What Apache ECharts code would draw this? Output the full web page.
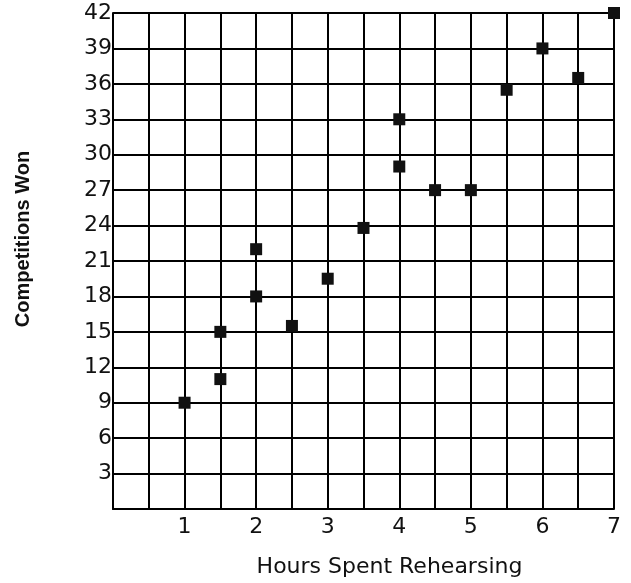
<!DOCTYPE html>
<html>
<head>
<meta charset="utf-8">
<script src="https://cdn.jsdelivr.net/npm/echarts@6/dist/echarts.min.js"></script>
<style>
  html, body { margin: 0; padding: 0; background: #fff; }
  #chart { width: 631px; height: 583px; }
</style>
</head>
<body>
<div id="chart"></div>
<script>
// hours rehearsing vs competitions won
var hours = [1, 1.5, 1.5, 2, 2, 2.5, 3, 3.5, 4, 4, 4.5, 5, 5.5, 6, 6.5, 7]
var wins = [9, 11, 15, 18, 22, 15.5, 19.5, 23.8, 33, 29, 27, 27, 35.5, 39, 36.5, 42]

var myChart = echarts.init(document.getElementById('chart'))

var option = {
  backgroundColor: '#fff',
  animation: false,
  grid: {
    left: 113,
    right: 17,
    top: 13,
    bottom: 73
  },
  xAxis: {
    type: 'value',
    min: 0,
    max: 7,
    interval: 0.5,
    name: 'Hours Spent Rehearsing',
    nameLocation: 'middle',
    nameGap: 47,
    nameTextStyle: {
      fontFamily: 'DejaVu Sans',
      fontSize: 22,
      color: '#111',
      padding: [0, 0, 0, 52]
    },
    axisLine: { lineStyle: { color: '#000', width: 2 } },
    axisTick: { show: false },
    splitLine: { lineStyle: { color: '#000', width: 2 } },
    axisLabel: {
      margin: 7,
      fontFamily: 'DejaVu Sans',
      fontSize: 22,
      color: '#111',
      formatter: function (v) {
        return (v > 0 && v % 1 === 0) ? String(v) : ''
      }
    }
  },
  yAxis: {
    type: 'value',
    min: 0,
    max: 42,
    interval: 3,
    name: 'Competitions Won',
    nameLocation: 'middle',
    nameGap: 80,
    nameTextStyle: {
      fontFamily: 'Liberation Sans',
      fontSize: 20,
      fontWeight: 'bold',
      color: '#111',
      padding: [0, 0, 0, 44]
    },
    axisLine: { show: true, lineStyle: { color: '#000', width: 2 } },
    axisTick: { show: false },
    splitLine: { lineStyle: { color: '#000', width: 2 } },
    axisLabel: {
      margin: 1,
      fontFamily: 'DejaVu Sans',
      fontSize: 22,
      color: '#111',
      formatter: function (v) {
        return v > 0 ? String(v) : ''
      }
    }
  },
  series: [
    {
      type: 'scatter',
      symbol: 'rect',
      symbolSize: 12,
      itemStyle: { color: '#111', opacity: 1 },
      data: hours.map(function (h, i) { return [h, wins[i]] })
    }
  ]
}

myChart.setOption(option)
</script>
</body>
</html>
